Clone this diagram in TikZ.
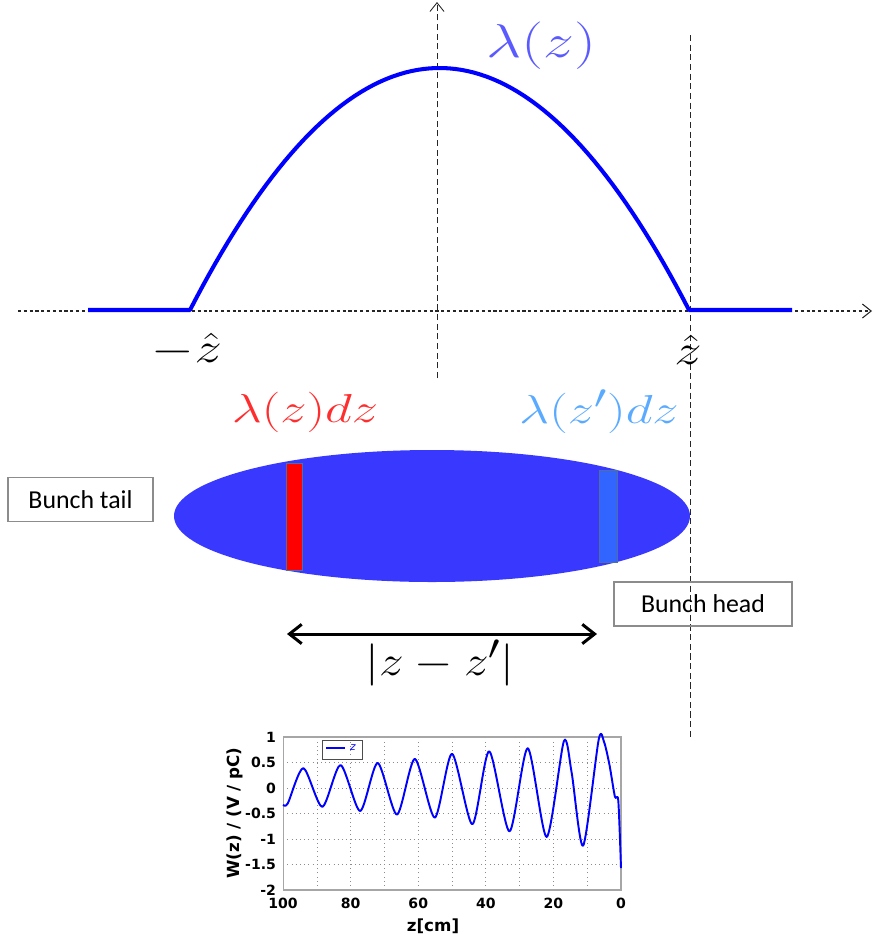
\documentclass[tikz,border=0pt]{standalone}
\usepackage{fontspec}
\newfontfamily\boxfont{Carlito}
\newfontfamily\plotfont{DejaVu Sans}
\usetikzlibrary{arrows.meta}
\definecolor{lamblue}{RGB}{90,90,255}
\definecolor{lamred}{RGB}{255,45,45}
\definecolor{lamsky}{RGB}{90,170,255}
\definecolor{bunchblue}{RGB}{56,56,255}
\definecolor{sliceblue}{RGB}{50,100,255}
\definecolor{slicerim}{RGB}{80,110,160}
\tikzset{
  bigmath/.style={inner sep=0pt, font=\Huge, yscale=#1/24.88, xscale=1.3*#1/24.88},
  labelbox/.style={draw=black!45, line width=0.6pt, minimum height=0.88cm,
    font=\boxfont\fontsize{14.7}{16}\selectfont},
  ticklabel/.style={font=\plotfont\bfseries\fontsize{8}{9}\selectfont, inner sep=1pt},
}
\begin{document}
\begin{tikzpicture}[x=0.02cm, y=-0.02cm]
  \useasboundingbox (0,0) rectangle (874,944);
  % axes
  \coordinate (xl) at (18,311);
  \coordinate (xr) at (872,311);
  \coordinate (yb) at (437,378);
  \coordinate (yt) at (437,2);
  \coordinate (ht) at (690,35);
  \coordinate (hb) at (690,740);
  \draw[black!85, line width=0.8pt, dash pattern=on 1.8pt off 1.5pt,
    -{Straight Barb[length=5pt,width=8pt,line width=0.6pt]}] (xl) -- (xr);
  \draw[black!85, line width=0.5pt, dash pattern=on 3.5pt off 2pt,
    -{Straight Barb[length=5pt,width=8pt,line width=0.5pt]}] (yb) -- (yt);
  \draw[black!85, line width=0.5pt, dash pattern=on 3.5pt off 2pt] (ht) -- (hb);
  % profile
  \draw[blue, line width=2.3pt, line join=round]
    (88,310) -- (190,310)
    -- plot[domain=190:689, samples=80] (\x, {310-242*(1-((\x-439.5)/249.5)^2)})
    -- (792,310);
  \node[bigmath=27, lamblue] (lamtop) at (541,46) {$\lambda(z)$};
  \node[bigmath=24] (zmin) at (187,350) {$-\hat{z}$};
  \node[bigmath=24] (zmax) at (688,350) {$\hat{z}$};
  % bunch
  \fill[bunchblue] (432,516) ellipse (258 and 66);
  \draw[slicerim, line width=0.4pt, fill=red] (286,463) rectangle (302,570);
  \draw[slicerim, line width=0.4pt, fill=sliceblue] (599,470) rectangle (617,562);
  \node[bigmath=23, lamred] (lamz) at (305,412) {$\lambda(z)dz$};
  \node[bigmath=23, lamsky] (lamzp) at (599,412) {$\lambda(z')dz$};
  \node[labelbox, minimum width=2.9cm] (tail) at (80.5,499.5) {Bunch tail};
  \node[labelbox, minimum width=3.56cm] (head) at (703,604) {Bunch head};
  % distance
  \coordinate (arrL) at (287,634);
  \coordinate (arrR) at (597,634);
  \draw[line width=1.7pt, {Straight Barb[length=7pt,width=11pt]}-{Straight Barb[length=7pt,width=11pt]}]
    (arrL) -- (arrR);
  \node[bigmath=24, xscale=0.9] (dist) at (440,663) {$|z-z'|$};
  % wake plot
  \node[ticklabel, font=\plotfont\bfseries\fontsize{9.5}{10}\selectfont, rotate=90] (wlab) at (235,813) {W(z) / (V / pC)};
  \node[ticklabel, font=\plotfont\bfseries\fontsize{9.5}{10}\selectfont] (zlab) at (433,926) {z[cm]};
  \begin{scope}[shift={(621,788)}, x=-0.0676cm, y=1.02cm]
    \foreach \z in {10,20,...,90}
      \draw[black!45, line width=0.4pt, dotted] (\z,-2) -- (\z,1);
    \foreach \w in {-1.5,-1,-0.5,0,0.5}
      \draw[black!45, line width=0.4pt, dotted] (100,\w) -- (0,\w);
    \draw[black!35, line width=0.6pt] (100,-2) rectangle (0,1);
    \foreach \z in {0,20,...,100}
      \node[ticklabel, anchor=north] (xt\z) at (\z,-2.12) {\z};
    \foreach \w/\t in {1/1,0.5/0.5,0/0,-0.5/-0.5,-1/-1,-1.5/-1.5,-2/-2}
      \node[ticklabel, anchor=east] (yt\t) at (101.5,\w) {\t};
    \draw[blue, line width=1.1pt, line join=round] plot[smooth, tension=0.45] coordinates {
      (100,-0.33) (98.6,-0.3) (94,0.39) (88.4,-0.37) (83,0.45) (77.2,-0.45)
      (72,0.49) (66.3,-0.52) (61,0.57) (55.1,-0.58) (50,0.67) (44,-0.71)
      (39,0.72) (33,-0.85) (27.6,0.78) (22,-0.96) (16.9,0.92) (14.6,0.3) (11.2,-1.13)
      (6.6,0.95) (5,0.9) (3.4,0.45) (1.8,-0.17) (0.8,-0.25) (0,-1.57)};
  \end{scope}
  % legend
  \draw[black!70, line width=0.5pt] (322,740) rectangle (362,759);
  \coordinate (legA) at (326,748);
  \coordinate (legB) at (345,748);
  \draw[blue, line width=1.1pt] (legA) -- (legB);
  \node[font=\plotfont\itshape\fontsize{6}{6}\selectfont, text=blue, inner sep=0pt] (legz) at (353,748) {z};
\end{tikzpicture}
\end{document}
